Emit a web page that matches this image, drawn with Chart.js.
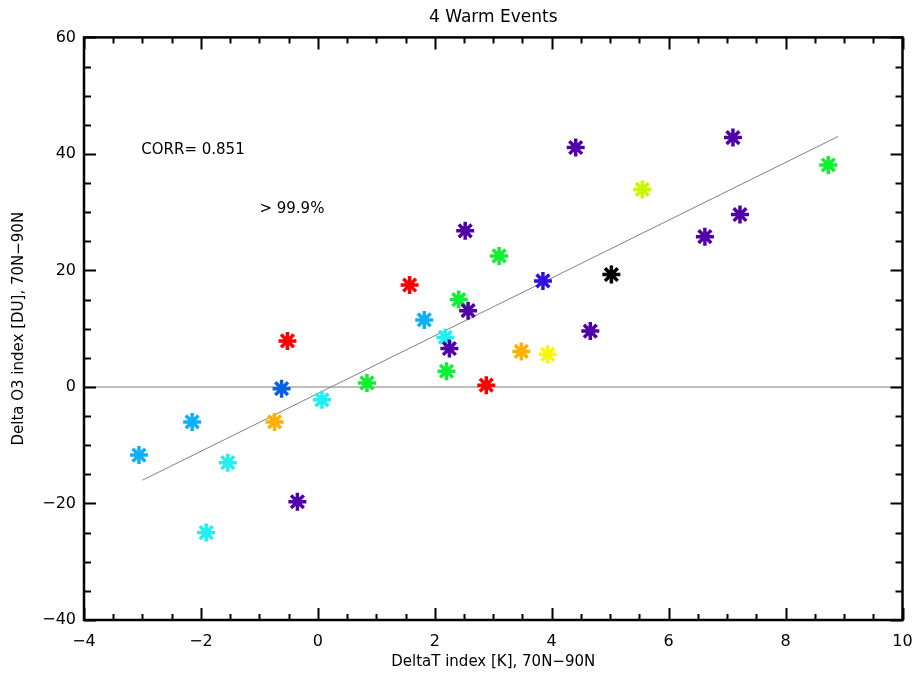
<!DOCTYPE html>
<html>
<head>
<meta charset="utf-8">
<script src="https://cdn.jsdelivr.net/npm/chart.js@4.4.1/dist/chart.umd.min.js"></script>
<style>
  html, body { margin: 0; padding: 0; background: #fff; }
</style>
</head>
<body>
<canvas id="myChart" width="915" height="675"></canvas>
<script>
// values
const deltaT = [-3.06, -2.15, -1.91, -1.54, -0.74, -0.62, -0.52, -0.35, 0.07, 0.84,
                1.57, 1.82, 2.18, 2.25, 2.20, 2.41, 2.57, 2.88, 3.85, 3.48,
                3.93, 2.52, 3.10, 4.41, 7.10, 8.73, 5.55, 7.22, 6.62, 5.02, 4.66];
const deltaO3 = [-11.7, -6.0, -25.0, -13.0, -6.0, -0.3, 7.9, -19.7, -2.2, 0.7,
                 17.5, 11.5, 8.5, 6.6, 2.7, 15.0, 13.1, 0.3, 18.2, 6.1,
                 5.6, 26.8, 22.5, 41.1, 42.8, 38.1, 33.9, 29.6, 25.8, 19.3, 9.6];
const pointColors = ['#10b0f8', '#10b0f8', '#20f0f0', '#20f0f0', '#ffb000', '#0a60e8', '#ff0000', '#5000a8', '#20f0f0', '#10f030',
                     '#ff0000', '#10b0f8', '#20f0f0', '#5000a8', '#10f030', '#10f030', '#5000a8', '#ff0000', '#3010e0', '#ffb000',
                     '#f8f800', '#5000a8', '#10f030', '#5000a8', '#5000a8', '#10f030', '#c8f800', '#5000a8', '#5000a8', '#000000', '#5000a8'];

// regression line endpoints
const fitX = [-3.0, 8.9];
const fitY = [-16.0, 43.0];

const xRange = [-4, 10];
const yRange = [-40, 60];
const corrText = 'CORR= 0.851';
const sigText = '> 99.9%';

const font = "'DejaVu Sans', sans-serif";
const minus = v => String(v).replace('-', '\u2212');

const boxTicks = {
    id: 'boxTicks',
    afterDatasetsDraw(chart) {
        const {ctx, chartArea: a, scales: {x, y}} = chart;
        ctx.save();
        ctx.strokeStyle = '#000';
        ctx.lineWidth = 2;
        ctx.beginPath();
        for (let v = xRange[0]; v <= xRange[1] + 1e-6; v += 0.5) {
            const px = Math.round(x.getPixelForValue(v)) + 0.5;
            const len = (Math.abs(v % 2) < 1e-6) ? 12 : 6;
            ctx.moveTo(px, a.bottom); ctx.lineTo(px, a.bottom - len);
            ctx.moveTo(px, a.top); ctx.lineTo(px, a.top + len);
        }
        for (let v = yRange[0]; v <= yRange[1] + 1e-6; v += 5) {
            const py = Math.round(y.getPixelForValue(v)) + 0.5;
            const len = (Math.abs(v % 20) < 1e-6) ? 12 : 7;
            ctx.moveTo(a.left, py); ctx.lineTo(a.left + len, py);
            ctx.moveTo(a.right, py); ctx.lineTo(a.right - len, py);
        }
        ctx.stroke();
        ctx.lineWidth = 2.5;
        ctx.strokeRect(a.left, a.top, a.right - a.left, a.bottom - a.top);

        ctx.fillStyle = '#000';
        ctx.font = '15px ' + font;
        ctx.textBaseline = 'middle';
        ctx.fillText(corrText, x.getPixelForValue(-3.02), y.getPixelForValue(40.6));
        ctx.fillText(sigText, x.getPixelForValue(-1.0), y.getPixelForValue(30.5));
        ctx.restore();
    }
};

const ctx = document.getElementById('myChart').getContext('2d');
const myChart = new Chart(ctx, {
    type: 'scatter',
    data: {
        datasets: [{
            label: 'events',
            data: deltaT.map((v, i) => ({x: v, y: deltaO3[i]})),
            pointStyle: 'star',
            pointRadius: 9,
            pointBorderWidth: 3.5,
            pointBorderColor: pointColors,
            pointBackgroundColor: pointColors,
            showLine: false,
            order: 0
        }, {
            label: 'fit',
            type: 'line',
            data: fitX.map((v, i) => ({x: v, y: fitY[i]})),
            borderColor: '#808080',
            borderWidth: 1,
            pointRadius: 0,
            order: 1
        }, {
            label: 'zero',
            type: 'line',
            data: xRange.map(v => ({x: v, y: 0})),
            borderColor: '#a8a8a8',
            borderWidth: 1.5,
            pointRadius: 0,
            order: 2
        }]
    },
    options: {
        responsive: false,
        animation: false,
        layout: { padding: { right: 5, top: 0, bottom: 0, left: 0 } },
        scales: {
            x: {
                type: 'linear',
                min: xRange[0],
                max: xRange[1],
                afterFit: s => { s.height = 55; s.paddingLeft = 0; s.paddingRight = 0; },
                grid: { display: false, drawTicks: false },
                border: { display: false },
                ticks: { stepSize: 2, padding: 12, color: '#000', font: { family: font, size: 16 }, callback: minus },
                title: { display: true, text: 'DeltaT index [K], 70N\u221290N', color: '#000', padding: { top: 4 }, font: { family: font, size: 15 } }
            },
            y: {
                type: 'linear',
                min: yRange[0],
                max: yRange[1],
                afterFit: s => { s.width = 84; },
                grid: { display: false, drawTicks: false },
                border: { display: false },
                ticks: { stepSize: 20, padding: 8, color: '#000', font: { family: font, size: 16 }, callback: minus },
                title: { display: true, text: 'Delta O3 index [DU], 70N\u221290N', color: '#000', padding: { top: 10 }, font: { family: font, size: 15 } }
            }
        },
        plugins: {
            legend: { display: false },
            tooltip: { enabled: false },
            title: {
                display: true,
                fullSize: false,
                text: '4 Warm Events',
                color: '#000',
                font: { family: font, size: 17, weight: 'normal' },
                padding: { top: 7, bottom: 10 }
            }
        }
    },
    plugins: [boxTicks]
});
</script>
</body>
</html>
